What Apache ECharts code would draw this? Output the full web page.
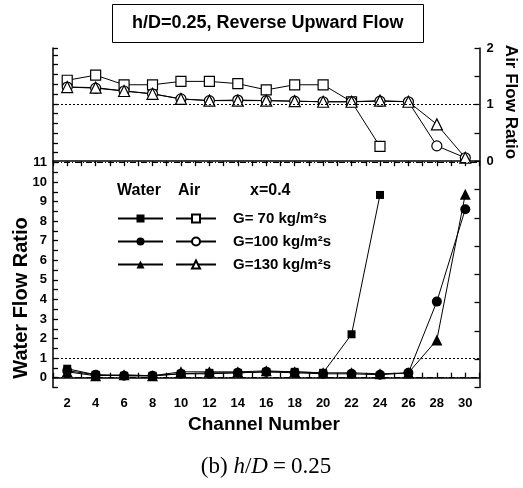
<!DOCTYPE html>
<html>
<head>
<meta charset="utf-8">
<script src="https://cdn.jsdelivr.net/npm/echarts@6/dist/echarts.min.js"></script>
<style>
html,body{margin:0;padding:0;background:#fff;}
#chart{width:523px;height:488px;}
</style>
</head>
<body>
<div id="chart"></div>
<script>
// ---- data ----
var channels = [2,4,6,8,10,12,14,16,18,20,22,24,26,28,30];
var waterG70  = [0.46,0.15,0.10,0.10,0.20,0.25,0.25,0.30,0.30,0.25,2.22,9.34];
var waterG100 = [0.36,0.15,0.10,0.10,0.20,0.20,0.25,0.30,0.25,0.20,0.20,0.15,0.25,3.89,8.61];
var waterG130 = [0.30,0.10,0.15,0.10,0.30,0.30,0.30,0.35,0.30,0.25,0.25,0.20,0.25,1.93,9.38];
var airG70  = [1.43,1.52,1.35,1.35,1.41,1.41,1.37,1.26,1.35,1.35,1.05,0.26];
var airG100 = [1.31,1.29,1.24,1.19,1.10,1.07,1.08,1.07,1.06,1.05,1.05,1.06,1.05,0.27,0.06];
var airG130 = [1.31,1.30,1.24,1.19,1.10,1.07,1.07,1.07,1.06,1.05,1.05,1.07,1.05,0.65,0.06];
var seriesLabels = ['G= 70 kg/m\u00b2s','G=100 kg/m\u00b2s','G=130 kg/m\u00b2s'];
var waterTickLabels = [0,1,2,3,4,5,6,7,8,9,10,11];
var airTickLabels = [0,1,2];

function pairs(vals){ return vals.map(function(v,i){ return [channels[i], v]; }); }

var FONT = 'Liberation Sans, Arial, sans-serif';
var SERIF = 'Liberation Serif, DejaVu Serif, serif';
var chart = echarts.init(document.getElementById('chart'), null, {renderer:'canvas'});

function waterSeries(name, vals, symbol, size, extra){
  var s = {
    name: name, type:'line', xAxisIndex:0, yAxisIndex:0, data: pairs(vals),
    symbol: symbol, symbolSize: size, showAllSymbol:true,
    lineStyle:{color:'#000', width:1},
    itemStyle:{color:'#000', borderColor:'#000', borderWidth:0},
    emphasis:{disabled:true}, z:3, animation:false
  };
  if (extra) for (var k in extra) s[k]=extra[k];
  return s;
}
function airSeries(name, vals, symbol, size, extra){
  var s = {
    name: name, type:'line', xAxisIndex:0, yAxisIndex:1, data: pairs(vals),
    symbol: symbol, symbolSize: size, showAllSymbol:true,
    lineStyle:{color:'#000', width:1},
    itemStyle:{color:'#fff', borderColor:'#000', borderWidth:1.2},
    emphasis:{disabled:true}, z:4, animation:false
  };
  if (extra) for (var k in extra) s[k]=extra[k];
  return s;
}

var mlBase = {silent:true, symbol:'none', label:{show:false}, animation:false};
var tickStyle = {color:'#000', width:1.3};

var option = {
  animation:false,
  backgroundColor:'#fff',
  title:{
    text:'h/D=0.25, Reverse Upward Flow',
    left:112, top:4,
    padding:[10,20,10,20],
    borderColor:'#000', borderWidth:1,
    textStyle:{fontFamily:FONT, fontSize:18, fontWeight:'bold', color:'#000', lineHeight:19}
  },
  grid:{left:53, right:43.5, top:48, bottom:100.5, containLabel:false, show:false},
  xAxis:[{
    type:'value', min:1, max:31, interval:1, position:'bottom',
    axisLine:{lineStyle:{color:'#000', width:1.5}},
    axisTick:{inside:true, length:5, lineStyle:tickStyle},
    axisLabel:{margin:9, fontFamily:FONT, fontSize:13, fontWeight:'bold', color:'#000',
      formatter:function(v){ return (v%2===0 && channels.indexOf(v)>=0) ? String(v) : ''; }},
    splitLine:{show:false}
  },{
    type:'value', min:1, max:31, interval:1, position:'top',
    axisLine:{lineStyle:{color:'#000', width:1.5}},
    axisTick:{inside:true, length:5, lineStyle:tickStyle},
    axisLabel:{show:false}, splitLine:{show:false}
  }],
  yAxis:[{
    type:'value', min:-0.5, max:16.85, interval:0.5, position:'left',
    axisLine:{show:true, lineStyle:{color:'#000', width:1.5}},
    axisTick:{show:true, inside:true, length:5, lineStyle:tickStyle},
    axisLabel:{margin:6, fontFamily:FONT, fontSize:13, fontWeight:'bold', color:'#000',
      formatter:function(v){ return waterTickLabels.indexOf(v)>=0 ? String(v) : ''; }},
    splitLine:{show:false}
  },{
    type:'value', min:-4, max:2, interval:0.5, position:'right',
    axisLine:{show:true, lineStyle:{color:'#000', width:1.5}},
    axisTick:{show:true, inside:true, length:5, lineStyle:tickStyle},
    axisLabel:{margin:7, fontFamily:FONT, fontSize:13, fontWeight:'bold', color:'#000',
      formatter:function(v){ return airTickLabels.indexOf(v)>=0 ? String(v) : ''; }},
    splitLine:{show:false}
  }],
  legend:[{
    selectedMode:false, orient:'vertical', left:117, top:210, padding:0,
    itemWidth:45, itemHeight:10, itemGap:6,
    data:['W70','W100','W130'],
    formatter:function(){ return ' '; },
    textStyle:{fontFamily:FONT, fontSize:15, lineHeight:17, color:'#000'}
  },{
    selectedMode:false, orient:'vertical', left:175, top:210, padding:0,
    itemWidth:40, itemHeight:10, itemGap:6,
    data:['A70','A100','A130'],
    formatter:function(n){ return {A70:seriesLabels[0],A100:seriesLabels[1],A130:seriesLabels[2]}[n]; },
    textStyle:{fontFamily:FONT, fontSize:15, lineHeight:17, fontWeight:'bold', color:'#000', padding:[0,0,0,12]}
  }],
  graphic:[
    {type:'text', left:117, top:183, style:{text:'Water', font:'bold 16px '+FONT, fill:'#000'}},
    {type:'text', left:178, top:183, style:{text:'Air', font:'bold 16px '+FONT, fill:'#000'}},
    {type:'text', left:250, top:183, style:{text:'x=0.4', font:'bold 16px '+FONT, fill:'#000'}},
    {type:'text', x:21, y:298, rotation:Math.PI/2,
      style:{text:'Water Flow Ratio', font:'bold 20px '+FONT, fill:'#000', align:'center', verticalAlign:'middle'}},
    {type:'text', x:511, y:102, rotation:-Math.PI/2,
      style:{text:'Air Flow Ratio', font:'bold 17px '+FONT, fill:'#000', align:'center', verticalAlign:'middle'}},
    {type:'text', x:264, y:425,
      style:{text:'Channel Number', font:'bold 19px '+FONT, fill:'#000', align:'center', verticalAlign:'middle'}},
    {type:'text', x:266, y:467,
      style:{text:'{n|(b) }{i|h}{n|/}{i|D}{e|=}{n|0.25}', align:'center', verticalAlign:'middle',
        rich:{
          n:{fontFamily:SERIF, fontSize:23, fill:'#000'},
          i:{fontFamily:SERIF, fontSize:23, fontStyle:'italic', fill:'#000'},
          e:{fontFamily:SERIF, fontSize:23, fill:'#000', padding:[0,5,0,5]}
        }}}
  ],
  series:[
    waterSeries('W70', waterG70, 'rect', 8, {
      markLine: Object.assign({}, mlBase, {
        data:[
          {yAxis:1, lineStyle:{color:'#000', width:1, type:[2,2]}},
          {yAxis:0, lineStyle:{color:'#000', width:1, type:[6,2,1,2]}},
          {yAxis:11, lineStyle:{color:'#000', width:1, type:[6,2,1,2]}}
        ]
      })
    }),
    waterSeries('W100', waterG100, 'circle', 10),
    waterSeries('W130', waterG130, 'triangle', 11),
    airSeries('A70', airG70, 'rect', 10, {
      markLine: Object.assign({}, mlBase, {
        data:[ {yAxis:1, lineStyle:{color:'#000', width:1, type:[2,2]}} ]
      })
    }),
    airSeries('A100', airG100, 'circle', 10),
    airSeries('A130', airG130, 'triangle', 11)
  ]
};
chart.setOption(option);
</script>
</body>
</html>
